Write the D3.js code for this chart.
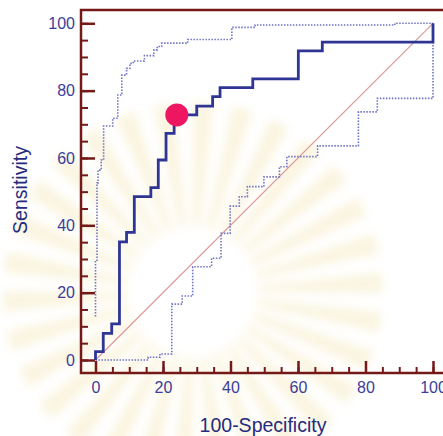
<!DOCTYPE html>
<html>
<head>
<meta charset="utf-8">
<script src="https://cdn.jsdelivr.net/npm/d3@7"></script>
<style>
  body { margin: 0; background: #fff; }
  svg { display: block; font-family: "Liberation Sans", Arial, sans-serif; }
</style>
</head>
<body>
<div id="chart"></div>
<script>
// ROC curve (100-specificity vs sensitivity)
const rocX = [0, 0, 2.3, 4.8, 7.1, 9.2, 11.5, 16.4, 18.6, 20.9, 23.3, 30.0, 34.7, 36.9, 46.6, 60.1, 67.2, 100];
const rocY = [0, 2.5, 7.9, 10.7, 35.1, 37.9, 48.5, 51.2, 59.4, 67.3, 72.8, 75.4, 78.2, 80.9, 83.5, 91.8, 94.4, 100];

// upper confidence bound
const upperX = [0, 0, 0.45, 0.75, 1.7, 2.4, 5.1, 6.6, 7.8, 9.2, 10.2, 11.2, 14.5, 17.3, 18.3, 19.6, 27.3, 40.4, 47.3, 88.7, 100];
const upperY = [12.9, 29.2, 52.6, 56.4, 59.4, 69.5, 71.8, 78.7, 84.6, 86.6, 88.1, 88.8, 90.4, 92.1, 93.1, 94.1, 95.2, 98.8, 99.5, 100, 100];

// lower confidence bound
const lowerX = [0, 15.6, 19.1, 22.6, 25.7, 28.8, 34.4, 37.2, 39.9, 42.6, 45.0, 49.9, 54.5, 56.7, 65.8, 77.9, 83.5, 100];
const lowerY = [0, 0.8, 1.8, 16.6, 19.0, 27.7, 30.2, 37.6, 45.7, 48.5, 51.5, 54.4, 57.4, 60.4, 63.6, 73.7, 77.7, 100];

// optimal criterion point
const cutX = [24.1];
const cutY = [72.8];

const tickValues = [0, 20, 40, 60, 80, 100];
const minorValues = d3.range(0, 101, 5);

const width = 443;
const height = 436;

const svg = d3.select("#chart")
    .append("svg")
    .attr("width", width)
    .attr("height", height);

// scales: plot area, axis frame sits a bit outside it
const x = d3.scaleLinear().domain([0, 100]).range([95.5, 433]);
const y = d3.scaleLinear().domain([0, 100]).range([360, 23.3]);
const frame = { left: 81, top: 10, bottom: 373, right: 452 };

// faint watermark behind the plot
const defs = svg.append("defs");
defs.append("filter").attr("id", "blur")
    .attr("x", "-50%").attr("y", "-50%").attr("width", "200%").attr("height", "200%")
    .append("feGaussianBlur").attr("stdDeviation", 5);

const wm = svg.append("g")
    .attr("transform", "translate(193,292)")
    .attr("filter", "url(#blur)")
    .attr("opacity", 0.28);
const rays = d3.range(30);
const rayArc = d3.arc().innerRadius(65).outerRadius(190);
wm.selectAll("path")
    .data(rays)
    .enter()
    .append("path")
    .attr("fill", "#efdc94")
    .attr("d", i => rayArc({
        startAngle: i * 2 * Math.PI / rays.length,
        endAngle: i * 2 * Math.PI / rays.length + 0.11
    }));

// frame
svg.append("rect")
    .attr("x", frame.left)
    .attr("y", frame.top)
    .attr("width", frame.right - frame.left)
    .attr("height", frame.bottom - frame.top)
    .attr("fill", "none")
    .attr("stroke", "#741818")
    .attr("stroke-width", 2.5);

// y ticks (pointing into the plot)
const yMinor = svg.append("g")
    .attr("transform", `translate(${frame.left},0)`)
    .call(d3.axisRight(y).tickValues(minorValues).tickSize(7).tickFormat(""));
const yMajor = svg.append("g")
    .attr("transform", `translate(${frame.left},0)`)
    .call(d3.axisRight(y).tickValues(tickValues).tickSize(14).tickFormat(""));
const yLabels = svg.append("g")
    .attr("transform", `translate(${frame.left},0)`)
    .call(d3.axisLeft(y).tickValues(tickValues).tickSize(0).tickPadding(6));

// x ticks
const xMinor = svg.append("g")
    .attr("transform", `translate(0,${frame.bottom})`)
    .call(d3.axisTop(x).tickValues(minorValues).tickSize(6).tickFormat(""));
const xMajor = svg.append("g")
    .attr("transform", `translate(0,${frame.bottom})`)
    .call(d3.axisTop(x).tickValues(tickValues).tickSize(12).tickFormat(""));
const xLabels = svg.append("g")
    .attr("transform", `translate(0,${frame.bottom})`)
    .call(d3.axisBottom(x).tickValues(tickValues).tickSize(0).tickPadding(9));

[yMinor, yMajor, yLabels, xMinor, xMajor, xLabels].forEach(g => g.select(".domain").remove());
[yMinor, xMinor].forEach(g => g.selectAll("line").attr("stroke", "#741818").attr("stroke-width", 2));
[yMajor, xMajor].forEach(g => g.selectAll("line").attr("stroke", "#741818").attr("stroke-width", 2.5));
[yLabels, xLabels].forEach(g => g.selectAll("text")
    .attr("fill", "#3b3d9a")
    .style("font-size", "16px")
    .style("font-family", "'Liberation Sans', Arial, sans-serif"));

// axis titles
svg.append("text")
    .attr("x", 263)
    .attr("y", 432)
    .attr("text-anchor", "middle")
    .attr("fill", "#262b7e")
    .style("font-size", "19.5px")
    .text("100-Specificity");

svg.append("text")
    .attr("transform", "translate(27,190) rotate(-90)")
    .attr("text-anchor", "middle")
    .attr("fill", "#262b7e")
    .style("font-size", "19.5px")
    .text("Sensitivity");

// reference diagonal
svg.append("line")
    .attr("x1", x(0)).attr("y1", y(0))
    .attr("x2", x(100)).attr("y2", y(100))
    .attr("stroke", "#dc9a9a")
    .attr("stroke-width", 1.2);

const step = d3.line()
    .x(d => x(d[0]))
    .y(d => y(d[1]))
    .curve(d3.curveStepAfter);

// confidence bounds
[[upperX, upperY], [lowerX, lowerY]].forEach(([xs, ys]) => {
    svg.append("path")
        .datum(xs.map((v, i) => [v, ys[i]]))
        .attr("fill", "none")
        .attr("stroke", "#6f73c4")
        .attr("stroke-width", 1.6)
        .attr("stroke-dasharray", "1.5,1.5")
        .attr("d", step);
});

// ROC curve
svg.append("path")
    .datum(rocX.map((v, i) => [v, rocY[i]]))
    .attr("fill", "none")
    .attr("stroke", "#2f3595")
    .attr("stroke-width", 2.8)
    .attr("d", step);

// criterion point
svg.selectAll("circle.cut")
    .data(cutX.map((v, i) => [v, cutY[i]]))
    .enter()
    .append("circle")
    .attr("class", "cut")
    .attr("cx", d => x(d[0]))
    .attr("cy", d => y(d[1]))
    .attr("r", 11.5)
    .attr("fill", "#ee1660");
</script>
</body>
</html>
